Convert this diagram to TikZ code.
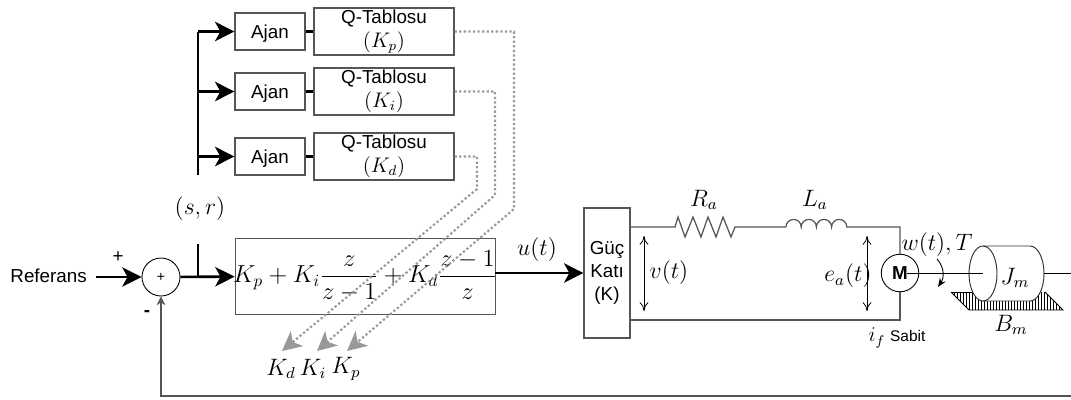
\documentclass[tikz,border=0pt]{standalone}
\usepackage{amsmath}
\usepackage{fontspec}
\setmainfont{Liberation Sans}
\usetikzlibrary{arrows.meta}
\definecolor{kutugri}{HTML}{555555}
\definecolor{noktagri}{HTML}{999999}
\tikzset{
  metin/.style={font=\fontsize{10.7}{13}\selectfont, align=center},
  matem/.style={font=\large, scale=1.125},
  ajankutu/.style={draw=kutugri, line width=0.7pt, minimum width=1.4cm, minimum height=0.74cm, inner sep=0pt, metin, text depth=0pt},
  qkutu/.style={draw=kutugri, line width=0.7pt, minimum width=2.8cm, minimum height=0.94cm, inner sep=0pt, metin},
  sinyal/.style={line width=1.5pt, -{Stealth[length=11pt,width=11pt,inset=3pt]}},
  kalin/.style={line width=1.5pt},
  tel/.style={draw=kutugri, line width=0.7pt},
  yuk/.style={draw=black!80, line width=0.55pt},
  nokta/.style={draw=noktagri, line width=1.2pt, dash pattern=on 1.3pt off 1.3pt, -{Stealth[length=11pt,width=11pt,inset=3pt,fill=noktagri]}},
  okcift/.style={line width=0.45pt, {To[length=5pt,width=5pt]}-{To[length=5pt,width=5pt]}},
}
\newcommand{\qyazi}[1]{Q-Tablosu\\[0.8pt]{\large$(K_{#1})$}}
\begin{document}
\begin{tikzpicture}[x=0.02cm, y=-0.02cm, line width=0.5pt]
  \useasboundingbox (0,0) rectangle (1071,399);
  % ajan ve tablo kutulari
  \node[ajankutu] (ajanp) at (270,31.5) {Ajan};
  \node[ajankutu] (ajani) at (270,91.5) {Ajan};
  \node[ajankutu] (ajand) at (270,156.5) {Ajan};
  \node[qkutu] (qp) at (384,31.5) {\qyazi{p}};
  \node[qkutu] (qi) at (384,91.5) {\qyazi{i}};
  \node[qkutu] (qd) at (384,156.5) {\qyazi{d}};
  \foreach \k in {p,i,d} {
    \draw[kalin] (ajan\k) -- (q\k);
  }
  \coordinate (busp) at (198,31.5);
  \coordinate (busi) at (198,91.5);
  \coordinate (busd) at (198,156.5);
  \coordinate (bust) at (198,175);
  \draw[kalin] (busp) -- (bust);
  \foreach \k in {p,i,d} {
    \draw[sinyal] (bus\k) -- (ajan\k);
  }
  \node[matem] (sr) at (200,209) {$(s,r)$};
  % ileri yol
  \node[metin, anchor=west, inner sep=0pt] (ref) at (10,276) {Referans};
  \node[draw=black, circle, minimum size=0.76cm, inner sep=0pt, font=\footnotesize] (top) at (161,277) {+};
  \node[metin] (arti) at (118,257) {+};
  \node[metin, font=\fontsize{10.7}{13}\selectfont\bfseries] (eksi) at (147,313) {-};
  \node[draw=kutugri, minimum width=5.2cm, minimum height=1.52cm, inner sep=0pt] (pid) at (365,276) {};
  \node[font=\Large, scale=0.972, inner sep=0pt] (pidyazi) at (365,276) {$\displaystyle K_p+K_i\frac{z}{z-1}+K_d\frac{z-1}{z}$};
  \coordinate (dal) at (198,277);
  \coordinate (dalt) at (198,244);
  \draw[sinyal, shorten <=5pt] (ref.east |- top) -- (top);
  \draw[sinyal] (top) -- (pid);
  \draw[kalin] (dal) -- (dalt);
  \node[matem] (ut) at (537,250) {$u(t)$};
  \node[draw=kutugri, line width=0.7pt, minimum width=0.92cm, minimum height=2.6cm, inner sep=0pt, metin] (guc) at (607,273) {G\"u\c{c}\\Kat\i\\(K)};
  \draw[sinyal] (pid.east |- guc) -- (guc);
  % KP KI KD oklari
  \node[matem] (kd) at (281,369) {$K_d$};
  \node[matem] (ki) at (313,369) {$K_i$};
  \node[matem] (kp) at (346,369) {$K_p$};
  \draw[nokta] (qp.east) -- (514,31.5) -- (514,209) -- (347,351);
  \draw[nokta] (qi.east) -- (495,91.5) -- (495,195) -- (317,351);
  \draw[nokta] (qd.east) -- (477,156.5) -- (477,189) -- (282,351);
  % geri besleme
  \coordinate (gbsag) at (1071,396);
  \draw[tel, -{Stealth[length=5pt,width=5pt]}] (gbsag) -- (161,396) -- (top);
  % armatur devresi
  \node[draw=black, circle, minimum size=0.75cm, inner sep=0pt, font=\fontsize{10.7}{12}\selectfont\bfseries] (motor) at (900,273) {M};
  \draw[tel] (guc.east |- 0,227) -- (675,227)
    -- (678,217) -- (685,237) -- (693,217) -- (701,237) -- (708,217)
    -- (716,237) -- (723,217) -- (731,237) -- (735,227) -- (786,227);
  \draw[tel] (786,227) arc (180:360:7.6) arc (180:360:7.6) arc (180:360:7.6) arc (180:360:7.6)
    -- (900,227) -- (motor);
  \draw[tel] (guc.east |- 0,320) -- (900,320) -- (motor);
  \draw[okcift] (644,236) -- (644,311);
  \draw[okcift] (867,236) -- (867,311);
  \node[matem] (ra) at (704,200) {$R_a$};
  \node[matem] (la) at (815,200) {$L_a$};
  \node[matem] (vt) at (669,273) {$v(t)$};
  \node[matem] (eat) at (848,276) {$e_a(t)$};
  \node[matem, inner sep=0pt] (wt) at (937,245) {$w(t),T$};
  \node (ifs) at (897,338) {{\large$i_f$} \fontsize{8.8}{10}\selectfont Sabit};
  % yuk
  \begin{scope}
    \clip (951,292) -- (969,310) -- (1063,310) -- (1045,292) -- cycle;
    \foreach \x in {951,954,...,1063} {
      \draw[line width=0.4pt] (\x,292) -- (\x,310);
    }
  \end{scope}
  \draw[line width=0.5pt] (951,292) -- (969,310) -- (1063,310) -- (1045,292);
  \draw[line width=0.5pt] (951,292) -- (976,292);
  \filldraw[yuk, fill=white] (983,246) -- (1030,246) arc (-90:90:14 and 27.5) -- (983,301) arc (90:270:14 and 27.5) -- cycle;
  \draw[yuk] (983,246) arc (-90:90:14 and 27.5);
  \coordinate (milsol) at (983,273);
  \coordinate (milsag) at (1044,273);
  \coordinate (milson) at (1071,273);
  \draw[line width=0.5pt] (motor.center) ++(7,0) -- (milsol);
  \draw[line width=0.5pt] (milsag) -- (milson);
  \draw[line width=0.5pt, -{Stealth[length=5pt,width=4pt]}] (937,259) .. controls (945,268) and (944,278) .. (938,287);
  \node[matem] (jm) at (1015,278) {$J_m$};
  \node[matem] (bm) at (1011,325) {$B_m$};
\end{tikzpicture}
\end{document}
